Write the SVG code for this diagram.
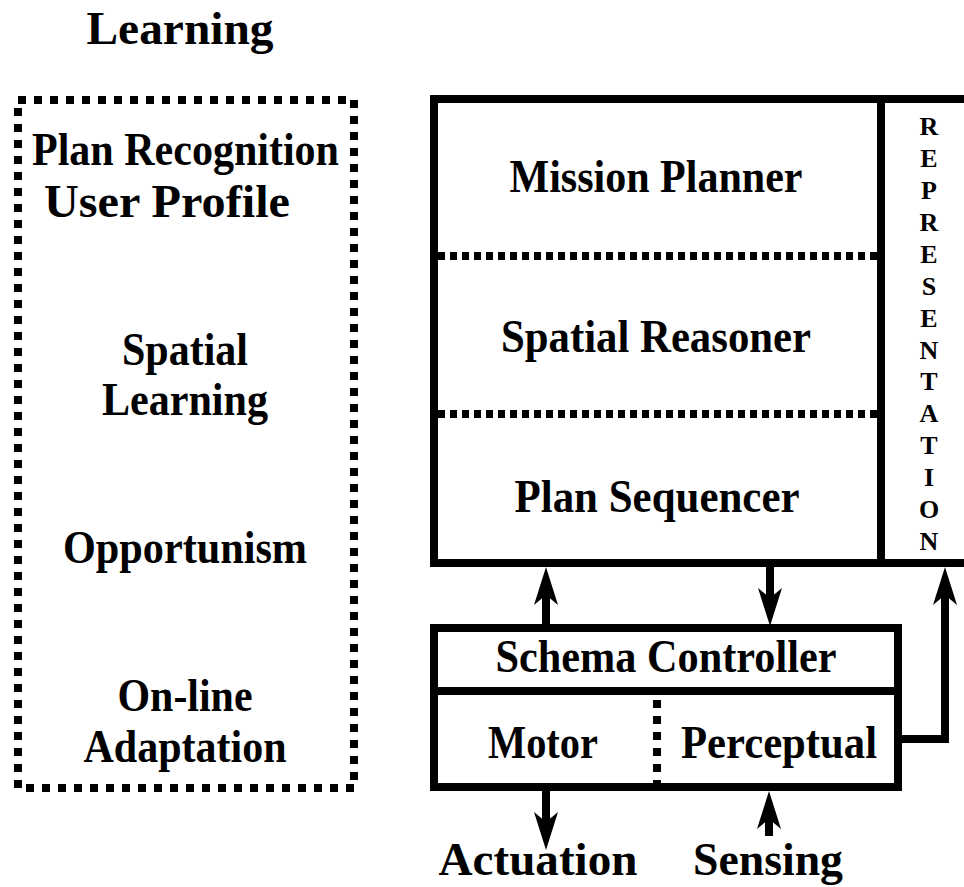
<svg xmlns="http://www.w3.org/2000/svg" width="964" height="887" viewBox="0 0 964 887">
<style>
text{font-family:"Liberation Serif","Times New Roman",serif;font-weight:bold;fill:#000;text-anchor:middle}
.t{font-size:47px}
.big{font-size:47px}
.rep{font-size:26px}
.solid{fill:none;stroke:#000;stroke-width:8;stroke-linejoin:miter}
.dot{fill:none;stroke:#000;stroke-width:8;stroke-dasharray:8 8}
.dotin{fill:none;stroke:#000;stroke-width:8;stroke-dasharray:7 5}
.arr{fill:none;stroke:#000;stroke-width:8;marker-end:url(#ah)}
</style>
<defs>
<marker id="ah" markerUnits="userSpaceOnUse" markerWidth="38" markerHeight="24" viewBox="0 0 38 24" refX="18" refY="12" orient="auto">
<path d="M0,0 L38,12 L0,24 L10,12 Z" fill="#000"/>
</marker>
</defs>
<rect width="964" height="887" fill="#fff"/>

<g id="learning">
<text class="big" x="180" y="44" textLength="187" lengthAdjust="spacingAndGlyphs">Learning</text>
<rect class="dot" x="18" y="100" width="336" height="688"/>
<text class="t" x="185.5" y="165" textLength="307" lengthAdjust="spacingAndGlyphs">Plan Recognition</text>
<text class="t" x="167" y="217" textLength="246" lengthAdjust="spacingAndGlyphs">User Profile</text>
<text class="t" x="185" y="365" textLength="126" lengthAdjust="spacingAndGlyphs">Spatial</text>
<text class="t" x="185" y="415" textLength="166" lengthAdjust="spacingAndGlyphs">Learning</text>
<text class="t" x="185" y="563" textLength="244" lengthAdjust="spacingAndGlyphs">Opportunism</text>
<text class="t" x="185" y="711" textLength="135" lengthAdjust="spacingAndGlyphs">On-line</text>
<text class="t" x="185" y="762" textLength="203" lengthAdjust="spacingAndGlyphs">Adaptation</text>
</g>

<g id="deliberative">
<path class="solid" d="M968,99 H434 V563 H968"/>
<line class="dotin" x1="438" y1="256" x2="878" y2="256"/>
<line class="dotin" x1="438" y1="414" x2="878" y2="414"/>
<text class="t" x="656" y="192" textLength="293" lengthAdjust="spacingAndGlyphs">Mission Planner</text>
<text class="t" x="656" y="352" textLength="310" lengthAdjust="spacingAndGlyphs">Spatial Reasoner</text>
<text class="t" x="657" y="512" textLength="285" lengthAdjust="spacingAndGlyphs">Plan Sequencer</text>
</g>

<g id="representation">
<line class="solid" x1="881" y1="99" x2="881" y2="563"/>
<text class="rep">
<tspan x="929" y="135">R</tspan><tspan x="929" y="167">E</tspan><tspan x="929" y="199">P</tspan><tspan x="929" y="231">R</tspan><tspan x="929" y="263">E</tspan><tspan x="929" y="295">S</tspan><tspan x="929" y="327">E</tspan><tspan x="929" y="359">N</tspan><tspan x="929" y="390">T</tspan><tspan x="929" y="422">A</tspan><tspan x="929" y="454">T</tspan><tspan x="929" y="486">I</tspan><tspan x="929" y="518">O</tspan><tspan x="929" y="550">N</tspan>
</text>
</g>

<g id="schema">
<rect class="solid" x="434" y="628" width="464" height="159"/>
<line class="solid" x1="434" y1="691" x2="898" y2="691"/>
<line class="dot" x1="657" y1="700" x2="657" y2="788"/>
<text class="t" x="666" y="672" textLength="341" lengthAdjust="spacingAndGlyphs">Schema Controller</text>
<text class="t" x="543" y="758" textLength="110" lengthAdjust="spacingAndGlyphs">Motor</text>
<text class="t" x="779" y="758" textLength="196" lengthAdjust="spacingAndGlyphs">Perceptual</text>
</g>

<g id="io">
<text class="big" x="538" y="875" textLength="199" lengthAdjust="spacingAndGlyphs">Actuation</text>
<text class="big" x="768" y="875" textLength="150" lengthAdjust="spacingAndGlyphs">Sensing</text>
</g>

<g id="connectors">
<line class="arr" x1="546" y1="628" x2="546" y2="587"/>
<line class="arr" x1="770" y1="563" x2="770" y2="606"/>
<path class="arr" d="M898,739 H945 V587"/>
<line class="arr" x1="546" y1="787" x2="546" y2="830"/>
<line class="arr" x1="769" y1="836" x2="769" y2="811"/>
</g>
</svg>
